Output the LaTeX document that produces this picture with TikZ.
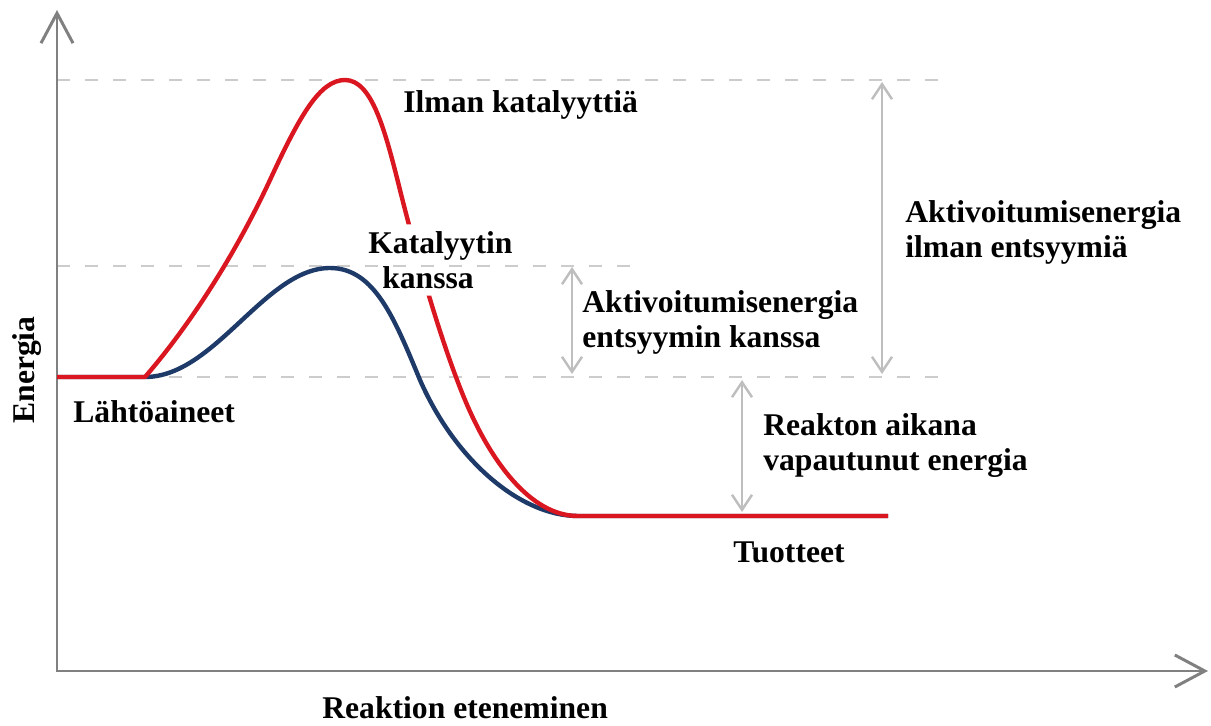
\documentclass[tikz,border=0pt]{standalone}
\usepackage{fontspec}
\setmainfont{Liberation Serif}
\usetikzlibrary{arrows.meta,calc}

\definecolor{kred}{RGB}{218,22,32}
\definecolor{kblue}{RGB}{30,58,104}
\definecolor{axgray}{RGB}{128,128,128}
\definecolor{dgray}{RGB}{204,204,204}
\definecolor{agray}{RGB}{190,190,190}

\begin{document}
\begin{tikzpicture}[x=0.02cm,y=-0.02cm,
  lbl/.style={font=\fontsize{18}{19.5}\selectfont\bfseries,inner sep=0pt,align=left},
  axis/.style={line width=1.7pt,draw=axgray,line join=miter,
    {Straight Barb[length=0.6cm,width=0.64cm]}-{Straight Barb[length=0.6cm,width=0.64cm]}},
  guide/.style={line width=1.1pt,draw=dgray,dash pattern=on 0.26cm off 0.3cm},
  span/.style={line width=1.4pt,draw=agray,
    {Straight Barb[length=0.3cm,width=0.4cm]}-{Straight Barb[length=0.3cm,width=0.4cm]}},
  curve/.style={line width=2.5pt,line join=round}]

  \useasboundingbox (0,0) rectangle (1211,726);

  % levels
  \coordinate (Ea) at (57,80);   \coordinate (Ea2) at (945,80);
  \coordinate (Eb) at (57,266);  \coordinate (Eb2) at (633,266);
  \coordinate (Er) at (57,377);  \coordinate (Er2) at (945,377);
  \coordinate (Ep) at (578,516); \coordinate (Ep2) at (888,516);

  \draw[guide] (Ea) -- (Ea2);
  \draw[guide] (Eb) -- (Eb2);
  \draw[guide] (Er) -- (Er2);

  % axes
  \coordinate (O) at (57,671);
  \coordinate (Ytop) at (57,10);
  \coordinate (Xend) at (1208,671);
  \draw[axis] (Ytop) -- (O) -- (Xend);

  \node[lbl,rotate=90] (E) at (27,370) {Energia};
  \node[lbl,anchor=base west] (X) at (322,718) {Reaktion eteneminen};

  % labels
  \node[lbl,anchor=base west] (I) at (403,113) {Ilman katalyyttiä};
  \node[lbl,anchor=north west] (K) at (368,231.5) {Katalyytin\\\hspace*{0.28cm}kanssa};
  \node[lbl,anchor=north west] (A1) at (905,200.5) {Aktivoitumisenergia\\ilman entsyymiä};
  \node[lbl,anchor=north west] (A2) at (582,290.5) {Aktivoitumisenergia\\entsyymin kanssa};
  \node[lbl,anchor=north west] (R) at (763,413.5) {Reakton aikana\\vapautunut energia};
  \node[lbl,anchor=base west] (L) at (73,422) {Lähtöaineet};
  \node[lbl,anchor=base west] (T) at (733,562) {Tuotteet};

  % blue: with catalyst
  \draw[curve,kblue] (Er) -- (145,377) .. controls (215,377) and (265,268) .. (330,268)
    .. controls (375,268) and (395,320) .. (420,380)
    .. controls (455,460) and (520,516) .. (Ep) -- (Ep2);

  % red: without catalyst, broken under the label
  \begin{scope}
    \clip (0,0) -- (1211,0) -- (1211,726) -- (0,726) -- cycle
      ($(K.north west)+(0,-7)$) -- ($(K.south west)+(0,7)$)
      -- ($(K.south east)+(0,7)$) -- ($(K.north east)+(0,-7)$) -- cycle;
    \draw[curve,kred] (Er) -- (145,377) .. controls (190,325) and (235,255) .. (270,180)
      .. controls (300,115) and (320,80) .. (345,80)
      .. controls (372,80) and (385,130) .. (400,190)
      .. controls (415,250) and (440,340) .. (465,400)
      .. controls (490,460) and (530,516) .. (Ep) -- (Ep2);
  \end{scope}

  % energy spans
  \coordinate (s1) at (882,82);  \coordinate (s1b) at (882,374);
  \coordinate (s2) at (572,267); \coordinate (s2b) at (572,374);
  \coordinate (s3) at (742,380); \coordinate (s3b) at (742,512);
  \draw[span] (s1) -- (s1b);
  \draw[span] (s2) -- (s2b);
  \draw[span] (s3) -- (s3b);

\end{tikzpicture}
\end{document}
